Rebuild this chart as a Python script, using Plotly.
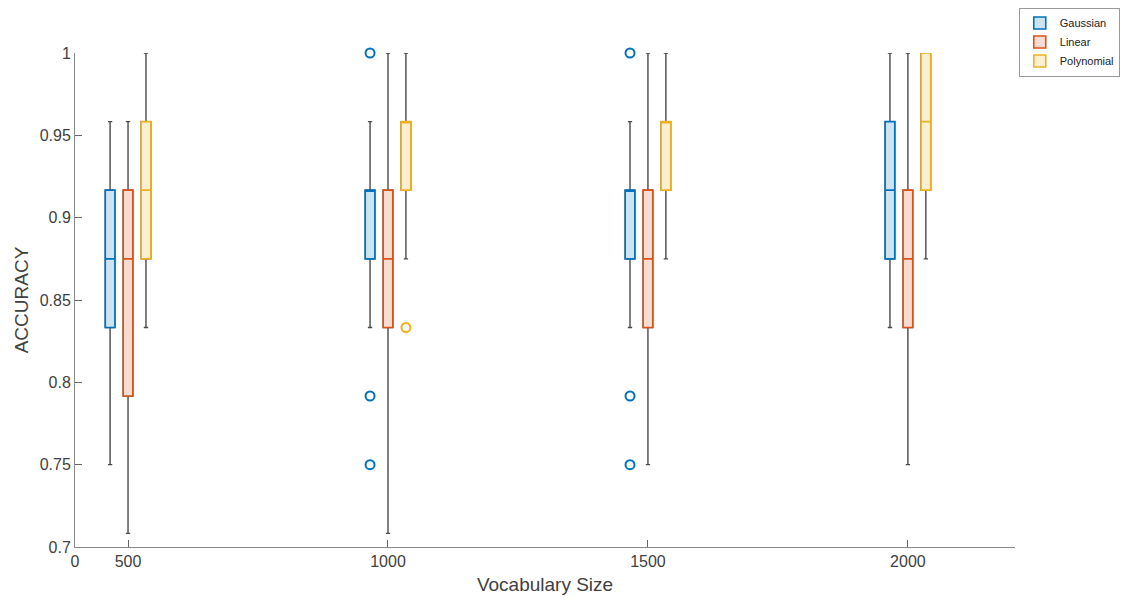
import plotly.graph_objects as go

# ---- data (accuracy per vocabulary size) ----
vocab_labels = ["500", "1000", "1500", "2000"]
group_pos = [1, 2, 3, 4]
series_names = ["Gaussian", "Linear", "Polynomial"]

gauss_lo = [0.7500, 0.8333, 0.8333, 0.8333]
gauss_q1 = [0.8333, 0.8750, 0.8750, 0.8750]
gauss_med = [0.8750, 0.9167, 0.9167, 0.9167]
gauss_q3 = [0.9167, 0.9167, 0.9167, 0.9583]
gauss_hi = [0.9583, 0.9583, 0.9583, 1.0000]
gauss_out_x = ["1000", "1000", "1000", "1500", "1500", "1500"]
gauss_out_y = [1.0000, 0.7917, 0.7500, 1.0000, 0.7917, 0.7500]

lin_lo = [0.7083, 0.7083, 0.7500, 0.7500]
lin_q1 = [0.7917, 0.8333, 0.8333, 0.8333]
lin_med = [0.8750, 0.8750, 0.8750, 0.8750]
lin_q3 = [0.9167, 0.9167, 0.9167, 0.9167]
lin_hi = [0.9583, 1.0000, 1.0000, 1.0000]
lin_out_x = []
lin_out_y = []

poly_lo = [0.8333, 0.8750, 0.8750, 0.8750]
poly_q1 = [0.8750, 0.9167, 0.9167, 0.9167]
poly_med = [0.9167, 0.9583, 0.9583, 0.9583]
poly_q3 = [0.9583, 0.9583, 0.9583, 1.0000]
poly_hi = [1.0000, 1.0000, 1.0000, 1.0000]
poly_out_x = ["1000"]
poly_out_y = [0.8333]

y_ticks = [0.7, 0.75, 0.8, 0.85, 0.9, 0.95, 1.0]
y_tick_labels = ["0.7", "0.75", "0.8", "0.85", "0.9", "0.95", "1"]
x_tick_labels = ["0", "500", "1000", "1500", "2000"]

# ---- styles ----
edge_colors = ["#0072BD", "#D95319", "#EDB120"]
fill_colors = ["#CCE3F2", "#F7DDD1", "#FBEFD2"]
offsets = [-0.069, 0.0, 0.069]
box_w = 0.037
whisker_col = "#4a4a4a"

stats = [
    (gauss_lo, gauss_q1, gauss_med, gauss_q3, gauss_hi, gauss_out_x, gauss_out_y),
    (lin_lo, lin_q1, lin_med, lin_q3, lin_hi, lin_out_x, lin_out_y),
    (poly_lo, poly_q1, poly_med, poly_q3, poly_hi, poly_out_x, poly_out_y),
]

fig = go.Figure()
label_to_pos = dict(zip(vocab_labels, group_pos))

# whiskers (gray) underneath
for i, (lo, q1, med, q3, hi, ox, oy) in enumerate(stats):
    xs = [p + offsets[i] for p in group_pos]
    fig.add_trace(go.Box(
        x=xs, lowerfence=lo, q1=q1, median=med, q3=q3, upperfence=hi,
        width=box_w, whiskerwidth=0.45,
        line=dict(color=whisker_col, width=1.4),
        fillcolor="rgba(0,0,0,0)", showlegend=False, hoverinfo="skip",
    ))

# colored boxes on top
for i, (lo, q1, med, q3, hi, ox, oy) in enumerate(stats):
    xs = [p + offsets[i] for p in group_pos]
    fig.add_trace(go.Box(
        x=xs, lowerfence=q1, q1=q1, median=med, q3=q3, upperfence=q3,
        width=box_w, whiskerwidth=0,
        line=dict(color=edge_colors[i], width=1.6),
        fillcolor=fill_colors[i], name=series_names[i],
    ))
    if ox:
        fig.add_trace(go.Scatter(
            x=[label_to_pos[v] + offsets[i] for v in ox], y=oy, mode="markers",
            marker=dict(symbol="circle-open", size=9, color=edge_colors[i],
                        line=dict(width=2, color=edge_colors[i])),
            showlegend=False, cliponaxis=False,
        ))

fig.update_layout(
    width=1118, height=587,
    paper_bgcolor="white", plot_bgcolor="white",
    boxmode="overlay",
    margin=dict(l=67, r=111, t=45, b=48, autoexpand=False),
    font=dict(family="Liberation Sans, Arial, sans-serif", size=16, color="#404040"),
    legend=dict(
        x=1.004, y=1.092, xanchor="left", yanchor="top",
        bordercolor="#999999", borderwidth=1, bgcolor="white",
        font=dict(size=11, color="#222222"), itemwidth=30,
        tracegroupgap=0,
    ),
)
fig.update_xaxes(
    range=[0.796, 4.412], tickvals=[0.796] + group_pos, ticktext=x_tick_labels,
    showgrid=False, zeroline=False, showline=True, linecolor="#888888", linewidth=1,
    ticks="inside", ticklen=7, tickcolor="#666666", automargin=False,
    tickfont=dict(size=16),
    title=dict(text="Vocabulary Size", font=dict(size=19, color="#404040"), standoff=11),
)
fig.update_yaxes(
    range=[0.7, 1.0], tickvals=y_ticks, ticktext=y_tick_labels,
    showgrid=False, zeroline=False, showline=True, linecolor="#888888", linewidth=1,
    ticks="inside", ticklen=7, tickcolor="#666666", automargin=False,
    tickfont=dict(size=16),
    title=dict(text="ACCURACY", font=dict(size=19, color="#404040"), standoff=6),
)

fig.write_html("out.html")
